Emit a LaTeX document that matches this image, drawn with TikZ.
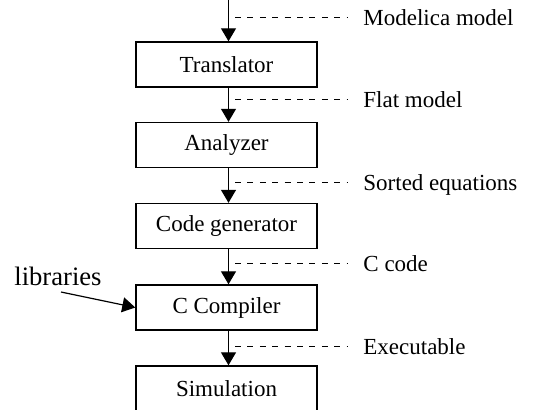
\documentclass[tikz,border=0pt]{standalone}
\usepackage{fontspec}
\setmainfont{Liberation Serif}
\usetikzlibrary{arrows.meta}
\begin{document}
\begin{tikzpicture}[x=0.5pt,y=-0.5pt,
  font=\fontsize{11.5}{13.8}\selectfont,
  box/.style={draw,line width=0.7pt,minimum width=90.5pt,minimum height=22.5pt,inner sep=0pt},
  arr/.style={line width=0.6pt,-{Triangle[length=6.5pt,width=7.5pt]}},
  dash line/.style={line width=0.5pt,dash pattern=on 3pt off 3.2pt},
  lbl/.style={anchor=base west,inner sep=0pt}]
\useasboundingbox (0,0) rectangle (539,409);
\clip (0,0) rectangle (539,409);
% boxes
\node[box] (t) at (226.5,64.5) {Translator};
\node[box] (a) at (226.5,145) {Analyzer};
\node[box] (g) at (226.5,226) {Code generator};
\node[box] (c) at (226.5,307.5) {C Compiler};
\node[box] (s) at (226.5,388.5) {Simulation};
% input
\coordinate (in) at (228.5,0);
\draw[arr] (in) -- (in |- t.north);
\draw[arr] ([xshift=1pt]t.south) -- ([xshift=1pt]a.north);
\draw[arr] ([xshift=1pt]a.south) -- ([xshift=1pt]g.north);
\draw[arr] ([xshift=1pt]g.south) -- ([xshift=1pt]c.north);
\draw[arr] ([xshift=1pt]c.south) -- ([xshift=1pt]s.north);
% labels
\node[lbl] (l1) at (363,25) {Modelica model};
\node[lbl] (l2) at (363,107) {Flat model};
\node[lbl] (l3) at (363,190) {Sorted equations};
\node[lbl] (l4) at (363,271) {C code};
\node[lbl] (l5) at (363,354) {Executable};
\coordinate (d1) at (235,17);
\coordinate (d2) at (235,99);
\coordinate (d3) at (235,182);
\coordinate (d4) at (235,263);
\coordinate (d5) at (235,346);
\draw[dash line] (d1) -- (348,17);
\draw[dash line] (d2) -- (348,99);
\draw[dash line] (d3) -- (348,182);
\draw[dash line] (d4) -- (348,263);
\draw[dash line] (d5) -- (348,346);
% libraries
\node[lbl,font=\fontsize{13.3}{16}\selectfont] (lib) at (14,285) {libraries};
\coordinate (ls) at (61,292);
\draw[arr] (ls) -- (c.west);
\end{tikzpicture}
\end{document}
